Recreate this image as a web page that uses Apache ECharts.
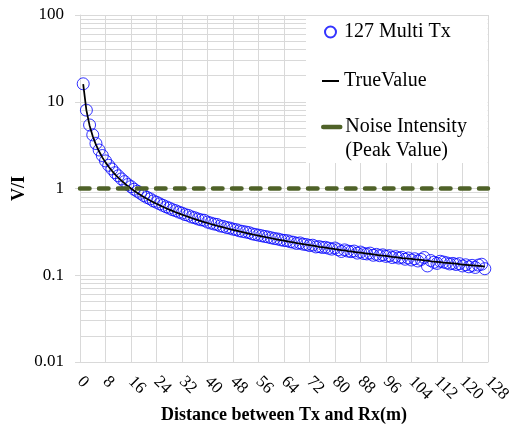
<!DOCTYPE html>
<html>
<head>
<meta charset="utf-8">
<script src="https://cdn.jsdelivr.net/npm/echarts@6/dist/echarts.min.js"></script>
<style>
  html, body { margin: 0; padding: 0; background: #fff; }
  #chart { width: 519px; height: 430px; }
</style>
</head>
<body>
<div id="chart"></div>
<script>
// Distance (m) of each receiver position
const distance = [
  1,2,3,4,5,6,7,8,9,10,11,12,13,14,15,16,17,18,19,20,
  21,22,23,24,25,26,27,28,29,30,31,32,33,34,35,36,37,38,39,40,
  41,42,43,44,45,46,47,48,49,50,51,52,53,54,55,56,57,58,59,60,
  61,62,63,64,65,66,67,68,69,70,71,72,73,74,75,76,77,78,79,80,
  81,82,83,84,85,86,87,88,89,90,91,92,93,94,95,96,97,98,99,100,
  101,102,103,104,105,106,107,108,109,110,111,112,113,114,115,116,117,118,119,120,
  121,122,123,124,125,126,127
];

// Measured V/I with 127 simultaneous transmitters
const multiTx = [
  16.1,8.0,5.4,4.15,3.3,2.78,2.4,2.08,1.85,1.68,1.52,1.4,1.29,1.2,1.11,1.05,0.98,0.93,0.88,0.83,
  0.79,0.76,0.72,0.695,0.665,0.64,0.615,0.595,0.57,0.555,0.535,0.52,0.5,0.49,0.47,0.46,0.445,0.435,0.43,0.41,
  0.4,0.39,0.385,0.37,0.365,0.355,0.35,0.34,0.335,0.325,0.32,0.315,0.31,0.3,0.295,0.29,0.285,0.28,0.276,0.27,
  0.265,0.262,0.256,0.252,0.25,0.243,0.24,0.233,0.236,0.228,0.226,0.22,0.222,0.212,0.214,0.209,0.21,0.205,0.2,0.206,
  0.197,0.188,0.196,0.19,0.187,0.19,0.18,0.185,0.178,0.176,0.18,0.17,0.174,0.168,0.172,0.165,0.168,0.16,0.164,0.158,
  0.161,0.153,0.158,0.15,0.155,0.146,0.152,0.16,0.128,0.148,0.141,0.137,0.145,0.142,0.139,0.135,0.137,0.133,0.136,0.128,
  0.132,0.125,0.13,0.123,0.131,0.134,0.119
];

// True V/I at each distance
const trueValue = [
  16,8,5.333,4,3.2,2.667,2.286,2,1.778,1.6,1.455,1.333,1.231,1.143,1.067,1,0.941,0.889,0.842,0.8,
  0.762,0.727,0.696,0.667,0.64,0.615,0.593,0.571,0.552,0.533,0.516,0.5,0.485,0.471,0.457,0.444,0.432,0.421,0.41,0.4,
  0.39,0.381,0.372,0.364,0.356,0.348,0.34,0.333,0.327,0.32,0.314,0.308,0.302,0.296,0.291,0.286,0.281,0.276,0.271,0.267,
  0.262,0.258,0.254,0.25,0.246,0.242,0.239,0.235,0.232,0.229,0.225,0.222,0.219,0.216,0.213,0.211,0.208,0.205,0.203,0.2,
  0.198,0.195,0.193,0.19,0.188,0.186,0.184,0.182,0.18,0.178,0.176,0.174,0.172,0.17,0.168,0.167,0.165,0.163,0.162,0.16,
  0.158,0.157,0.155,0.154,0.152,0.151,0.15,0.148,0.147,0.145,0.144,0.143,0.142,0.14,0.139,0.138,0.137,0.136,0.134,0.133,
  0.132,0.131,0.13,0.129,0.128,0.127,0.126
];

// Noise intensity (peak value) across the whole distance range
const noiseX = [0, 128];
const noiseLevel = [1, 1];

// Axis ticks
const yTickValues = [0.01, 0.1, 1, 10, 100];
const yTickLabels = ['0.01', '0.1', '1', '10', '100'];
const yMinorGrid = [
  0.02,0.03,0.04,0.05,0.06,0.07,0.08,0.09,
  0.2,0.3,0.4,0.5,0.6,0.7,0.8,0.9,
  2,3,4,5,6,7,8,9,
  20,30,40,50,60,70,80,90
];

const serif = '"Liberation Serif", "Times New Roman", serif';
const gridColor = '#d9d9d9';
const markerBlue = '#0000ff';
const noiseGreen = '#4f6228';

const NAME_MEAS = '127 Multi Tx';
const NAME_TRUE = 'TrueValue';
const NAME_NOISE = 'Noise Intensity\n(Peak Value)';

const chart = echarts.init(document.getElementById('chart'), null, { renderer: 'canvas' });

const zip = (xs, ys) => xs.map((x, i) => [x, ys[i]]);
const legendText = { fontFamily: serif, fontSize: 20, color: '#000', lineHeight: 24 };
const hiddenSymbol = { color: 'rgba(0,0,0,0)', borderColor: 'rgba(0,0,0,0)', borderWidth: 0 };

chart.setOption({
  animation: false,
  backgroundColor: '#ffffff',
  grid: { left: 80, right: 31, top: 15, bottom: 68, containLabel: false, outerBoundsMode: 'none' },
  xAxis: {
    type: 'value',
    min: 0,
    max: 128,
    interval: 8,
    name: 'Distance between Tx and Rx(m)',
    nameLocation: 'middle',
    nameGap: 44,
    nameMoveOverlap: false,
    nameTextStyle: { fontFamily: serif, fontSize: 18, fontWeight: 'bold', color: '#000' },
    axisLine: { show: true, lineStyle: { color: gridColor, width: 1 } },
    axisTick: { show: false },
    axisLabel: {
      rotate: -45,
      margin: 17,
      fontFamily: serif,
      fontSize: 17,
      color: '#000'
    },
    splitLine: { show: true, lineStyle: { color: gridColor, width: 1 } }
  },
  yAxis: {
    type: 'log',
    logBase: 10,
    min: 0.01,
    max: 100,
    name: 'V/I',
    nameLocation: 'middle',
    nameGap: 52,
    nameMoveOverlap: false,
    nameRotate: 90,
    nameTextStyle: { fontFamily: serif, fontSize: 18, fontWeight: 'bold', color: '#000' },
    axisLine: { show: true, lineStyle: { color: gridColor, width: 1 } },
    axisTick: { show: true, inside: false, length: 5, lineStyle: { color: gridColor } },
    axisLabel: {
      margin: 16,
      fontFamily: serif,
      fontSize: 17,
      color: '#000',
      formatter: (v) => {
        const i = yTickValues.findIndex((t) => Math.abs(Math.log10(t) - Math.log10(v)) < 1e-6);
        return i >= 0 ? yTickLabels[i] : '';
      }
    },
    splitLine: { show: true, lineStyle: { color: gridColor, width: 1 } }
  },
  legend: [
    {
      // white legend box holding the first two entries
      orient: 'vertical',
      left: 306,
      top: 16,
      padding: [4, 37, 70, 15],
      backgroundColor: '#ffffff',
      z: 6,
      itemWidth: 17,
      itemHeight: 11,
      itemGap: 25,
      selectedMode: false,
      textStyle: legendText,
      data: [
        { name: NAME_MEAS },
        {
          name: NAME_TRUE,
          itemStyle: hiddenSymbol,
          lineStyle: { color: '#000000', width: 2, type: 'solid' }
        }
      ]
    },
    {
      // third entry: leading blank line keeps the icon level with "Noise Intensity"
      orient: 'vertical',
      left: 321,
      top: 91,
      padding: 0,
      z: 7,
      itemWidth: 17,
      itemHeight: 11,
      selectedMode: false,
      textStyle: legendText,
      formatter: (name) => '\n' + name,
      data: [
        {
          name: NAME_NOISE,
          itemStyle: hiddenSymbol,
          lineStyle: { color: noiseGreen, width: 4.5, type: 'solid', cap: 'round' }
        }
      ]
    }
  ],
  series: [
    {
      // minor log gridlines (2..9 within each decade)
      type: 'line',
      data: [],
      silent: true,
      z: 0,
      markLine: {
        silent: true,
        z: 1,
        symbol: ['none', 'none'],
        label: { show: false },
        animation: false,
        lineStyle: { color: gridColor, width: 1, type: 'solid' },
        data: yMinorGrid.map((v) => ({ yAxis: v }))
      }
    },
    {
      name: NAME_MEAS,
      type: 'scatter',
      data: zip(distance, multiTx),
      symbol: 'circle',
      symbolSize: 12,
      z: 2,
      itemStyle: { color: 'rgba(255,255,255,0)', borderColor: markerBlue, borderWidth: 1 }
    },
    {
      name: NAME_TRUE,
      type: 'line',
      data: zip(distance, trueValue),
      showSymbol: false,
      symbol: 'none',
      smooth: false,
      z: 3,
      lineStyle: { color: '#000000', width: 1.75 },
      itemStyle: { color: '#000000' }
    },
    {
      name: NAME_NOISE,
      type: 'line',
      data: zip(noiseX, noiseLevel),
      showSymbol: false,
      symbol: 'none',
      z: 4,
      lineStyle: { color: noiseGreen, width: 4.5, type: [9.5, 9.5], cap: 'round' },
      itemStyle: { color: noiseGreen }
    }
  ]
});
</script>
</body>
</html>
